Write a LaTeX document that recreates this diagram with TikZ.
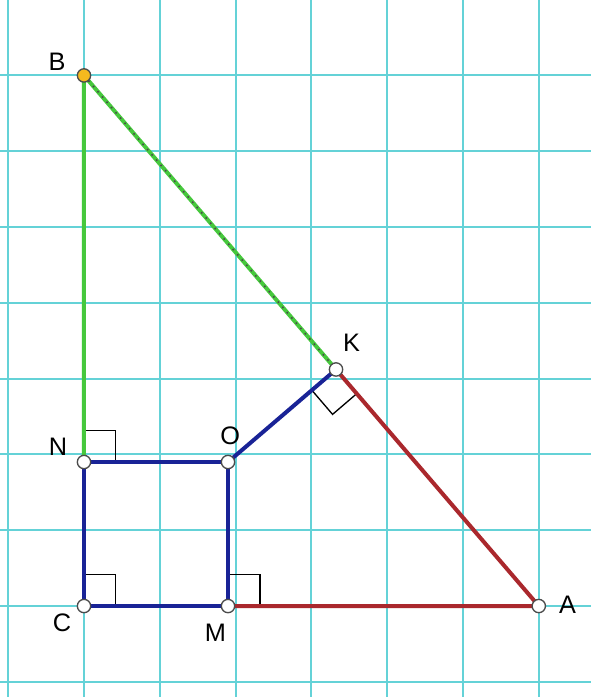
\documentclass[tikz,border=0pt]{standalone}
\usepackage{fontspec}
\setmainfont{Liberation Sans}
\usetikzlibrary{calc}
\definecolor{gridcyan}{RGB}{100,210,215}
\definecolor{segblue}{RGB}{25,35,150}
\definecolor{seggreen}{RGB}{70,200,60}
\definecolor{segred}{RGB}{170,40,45}
\definecolor{ptorange}{RGB}{245,185,30}
\tikzset{
  gridline/.style={gridcyan, line width=0.75pt},
  seg/.style={line width=1.5pt},
  rightmark/.style={black, line width=0.5pt},
  pt/.style={circle, draw=black!70, fill=white, line width=0.5pt, inner sep=0pt, minimum size=5pt},
  lbl/.style={font=\fontsize{9.5}{10}\selectfont}
}
\begin{document}
\begin{tikzpicture}
    \useasboundingbox (-1.108,-1.2) rectangle (6.689,7.995);
    \fill[white] (-1.108,-1.2) rectangle (6.689,7.995);

    % Grid
    \draw[gridline] (-1.108,-1.2) grid (6.689,7.995);

    % Points
    \coordinate (C) at (0,0);
    \coordinate (A) at (6,0);
    \coordinate (B) at (0,7);
    \coordinate (M) at (1.9,0);
    \coordinate (O) at (1.9,1.9);
    \coordinate (N) at (0,1.9);
    \coordinate (K) at ($(A)!(O)!(B)$);

    % Right angle marks
    \draw[rightmark] ($(C)+(0,0.42)$) -- ++(0.42,0) -- ++(0,-0.42);
    \draw[rightmark] ($(N)+(0,0.42)$) -- ++(0.42,0) -- ++(0,-0.42);
    \draw[rightmark] ($(M)+(0,0.42)$) -- ++(0.42,0) -- ++(0,-0.42);
    \coordinate (k1) at ($(K)!0.42cm!(O)$);
    \coordinate (k2) at ($(K)!0.42cm!(A)$);
    \draw[rightmark] (k1) -- ($(k1)+(k2)-(K)$) -- (k2);

    % Segments
    \draw[seg, seggreen] (N) -- (B) -- (K);
    \draw[black!70, line width=0.6pt, dotted] (B) -- (K);
    \draw[seg, segred] (K) -- (A) -- (M);
    \draw[seg, segblue] (C) -- (M) -- (O) -- (N) -- cycle;
    \draw[seg, segblue] (O) -- (K);

    % Point markers
    \node[pt, fill=ptorange] (b) at (B) {};
    \foreach \p in {C,M,O,N,K,A}
        \node[pt] (p\p) at (\p) {};

    % Labels
    \node[lbl] (lB) at (-0.356,7.18) {B};
    \node[lbl] (lN) at (-0.343,2.10) {N};
    \node[lbl] (lO) at (1.93,2.24) {O};
    \node[lbl] (lC) at (-0.29,-0.22) {C};
    \node[lbl] (lM) at (1.735,-0.356) {M};
    \node[lbl] (lK) at (3.53,3.47) {K};
    \node[lbl] (lA) at (6.38,0.02) {A};
\end{tikzpicture}
\end{document}
